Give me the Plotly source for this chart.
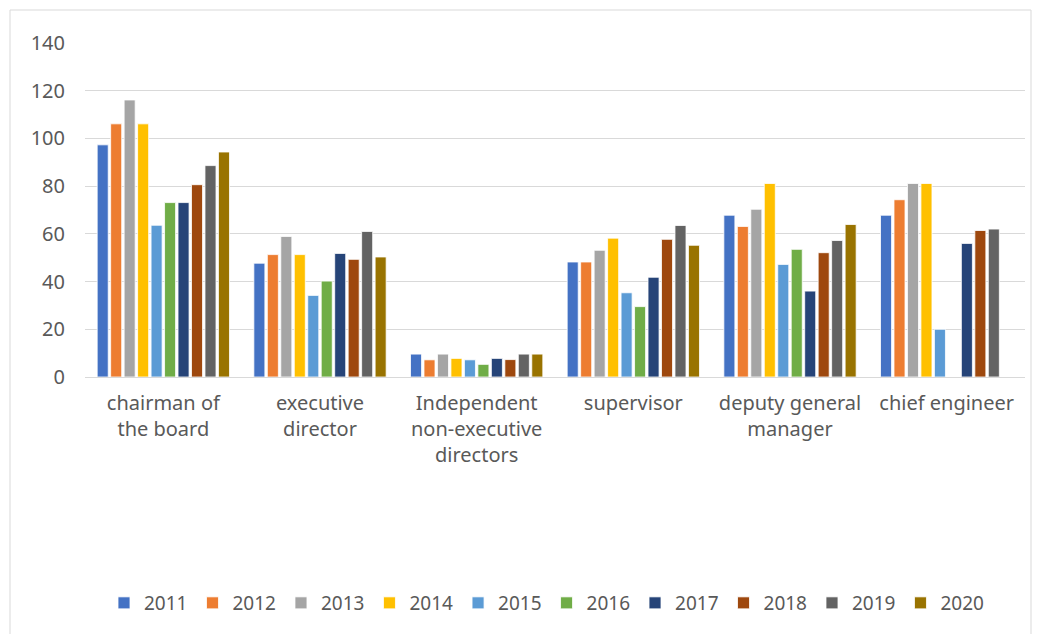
import plotly.graph_objects as go

categories = ["chairman of<br>the board", "executive<br>director", "Independent<br>non-executive<br>directors",
              "supervisor", "deputy general<br>manager", "chief engineer"]
years = ["2011", "2012", "2013", "2014", "2015", "2016", "2017", "2018", "2019", "2020"]

v2011 = [97.3, 47.7, 9.6, 48.2, 67.8, 67.8]
v2012 = [106.1, 51.3, 7.2, 48.2, 63.1, 74.3]
v2013 = [116.1, 58.9, 9.6, 53.1, 70.3, 81.1]
v2014 = [106.1, 51.3, 7.8, 58.2, 81.1, 81.1]
v2015 = [63.6, 34.2, 7.2, 35.3, 47.2, 20.0]
v2016 = [73.1, 40.2, 5.3, 29.5, 53.5, None]
v2017 = [73.1, 51.8, 7.8, 41.8, 36.0, 56.0]
v2018 = [80.6, 49.3, 7.3, 57.7, 52.1, 61.4]
v2019 = [88.6, 61.0, 9.6, 63.5, 57.2, 62.0]
v2020 = [94.3, 50.3, 9.6, 55.2, 63.9, None]

series = [v2011, v2012, v2013, v2014, v2015, v2016, v2017, v2018, v2019, v2020]
colors = ["#4472C4", "#ED7D31", "#A5A5A5", "#FFC000", "#5B9BD5",
          "#70AD47", "#264478", "#9E480E", "#636363", "#997300"]

fig = go.Figure()
for y, vals, c in zip(years, series, colors):
    fig.add_trace(go.Bar(x=categories, y=vals, name=y,
                         marker=dict(color=c, line=dict(color="white", width=0.8))))

OFF = 8  # page body margin
W, H = 1041 - 2 * OFF, 634 - OFF
L, R, T, B = 85 - OFF, 1025 - OFF, 42 - OFF, 377 - OFF
pw, ph = R - L, B - T
fig.update_layout(
    width=W, height=H,
    margin=dict(l=L, r=W - R, t=T, b=H - B, autoexpand=False),
    paper_bgcolor="white", plot_bgcolor="white",
    barmode="group", bargap=0.14, bargroupgap=0.18,
    font=dict(family="Noto Sans", color="#595959", size=20),
    xaxis=dict(showline=True, linecolor="#d9d9d9", linewidth=1, ticks="", tickfont=dict(size=20),
               showgrid=False, ticklabelstandoff=8),
    yaxis=dict(range=[0, 140.4], tickvals=[0, 20, 40, 60, 80, 100, 120, 140], showgrid=True,
               gridcolor="#d9d9d9", gridwidth=1, zeroline=False, ticks="",
               tickfont=dict(size=20), ticklabelstandoff=19),
    legend=dict(orientation="h", x=(104 - OFF - L) / pw, xanchor="left",
                y=(B - (603 - OFF)) / ph, yanchor="middle",
                font=dict(size=19), itemwidth=30, traceorder="normal"),
)

fig.add_shape(type="rect", xref="paper", yref="paper",
              x0=(10 - OFF - L) / pw, x1=(1031 - OFF - L) / pw,
              y0=(B - (640 - OFF)) / ph, y1=(B - (10 - OFF)) / ph,
              line=dict(color="#d9d9d9", width=1), fillcolor="rgba(0,0,0,0)", layer="below")

fig.write_html("out.html")
